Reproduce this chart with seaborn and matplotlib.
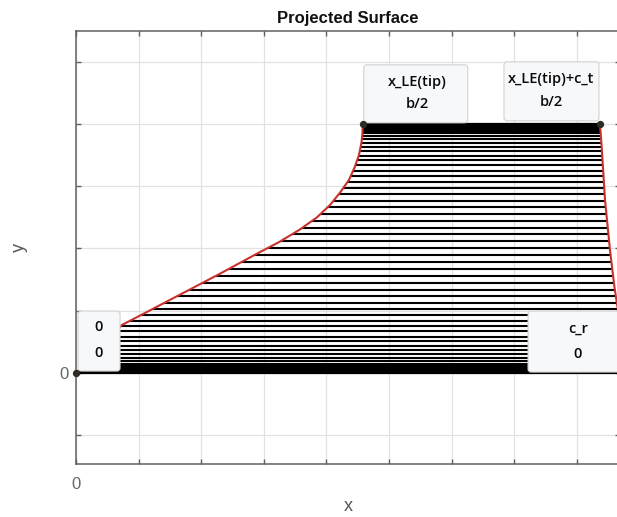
import matplotlib
matplotlib.use("Agg")
import numpy as np
import pandas as pd
import seaborn as sns
import matplotlib.pyplot as plt
from matplotlib.patches import FancyBboxPatch, Polygon
from matplotlib.transforms import Affine2D, ScaledTranslation

# Planform geometry
half_span = 4.0      # b/2
root_chord = 8.85    # c_r
tip_le = 4.58        # x_LE(tip)
tip_chord = 3.79     # c_t

# Leading edge (root -> tip)
le_y = [0.00, 0.77, 1.00, 1.30, 1.60, 1.90, 2.10, 2.30, 2.50, 2.70, 2.90,
        3.10, 3.30, 3.50, 3.70, 3.85, 4.00]
le_x = [0.00, 0.73, 1.17, 1.74, 2.31, 2.86, 3.24, 3.57, 3.85, 4.06, 4.22,
        4.36, 4.45, 4.52, 4.56, 4.576, 4.58]

# Trailing edge (root -> tip)
te_y = [0.00, 0.50, 1.12, 1.39, 1.97, 2.78, 3.58, 4.00]
te_x = [8.85, 8.74, 8.64, 8.60, 8.53, 8.45, 8.40, 8.37]

# Spanwise stations of the chord lines
station_y = [0.000, 0.003, 0.013, 0.028, 0.050, 0.078, 0.112, 0.152, 0.198,
             0.249, 0.307, 0.369, 0.436, 0.509, 0.586, 0.667, 0.753, 0.843,
             0.936, 1.033, 1.132, 1.235, 1.339, 1.446, 1.555, 1.665, 1.776,
             1.888, 2.000, 2.112, 2.224, 2.335, 2.445, 2.554, 2.661, 2.765,
             2.868, 2.967, 3.064, 3.157, 3.247, 3.333, 3.414, 3.491, 3.564,
             3.631, 3.693, 3.751, 3.802, 3.848, 3.888, 3.922, 3.950, 3.972,
             3.987, 3.997, 4.000]

# Data tips: anchor point and the two text rows
tip_points_x = [0.0, root_chord, tip_le, tip_le + tip_chord]
tip_points_y = [0.0, 0.0, half_span, half_span]
tip_texts = [("0", "0"), ("c_r", "0"), ("x_LE(tip)", "b/2"),
             ("x_LE(tip)+c_t", "b/2")]

sns.set_theme(style="whitegrid")
plt.rcParams["font.family"] = ["Liberation Sans", "DejaVu Sans"]

fig = plt.figure(figsize=(6.17, 5.17), dpi=100)
ax = fig.add_axes([0.1232, 0.1025, 0.8817, 0.8375])
ax.set_facecolor("white")

ax.set_xlim(0, 8.69)
ax.set_ylim(-1.46, 5.49)
ax.set_xticks(range(0, 9))
ax.set_yticks(range(-1, 6))
ax.set_xticklabels(["0"] + [""] * 8)
ax.set_yticklabels(["", "0"] + [""] * 5)
ax.grid(True, color="#e2e2e2", linewidth=0.9)
ax.set_axisbelow(True)
for side, sp in ax.spines.items():
    sp.set_visible(True)
    sp.set_color("#606060")
    sp.set_linewidth(1.1)
ax.tick_params(axis="both", which="both", direction="in", length=3.5,
               width=1.0, color="#606060", top=True, right=True,
               bottom=True, left=True, labelsize=12, labelcolor="#666666")
ax.tick_params(axis="x", pad=9)
ax.tick_params(axis="y", pad=5)

# Chord lines clipped to the planform outline
outline = Polygon(np.column_stack([np.r_[le_x, te_x[::-1]],
                                   np.r_[le_y, te_y[::-1]]]),
                  closed=True, transform=ax.transData)
chords = ax.hlines(station_y, min(le_x), max(te_x), colors="black",
                   linewidth=1.5, zorder=2)
chords.set_clip_path(outline)
ax.plot([0, root_chord], [0, 0], color="black", lw=1.6, zorder=2)
ax.plot([tip_le, tip_le + tip_chord], [half_span, half_span],
        color="black", lw=1.6, zorder=2)

edges = pd.DataFrame({"x": le_x + te_x, "y": le_y + te_y,
                      "edge": ["LE"] * len(le_x) + ["TE"] * len(te_x)})
sns.lineplot(data=edges, x="x", y="y", units="edge", estimator=None,
             sort=False, color="#c8302c", linewidth=1.5, ax=ax, zorder=3)

# Data-tip boxes, laid out in pixels relative to their anchor point
box_layout = [
    # x0, x1, y0, y1, text x, text rows y
    (2, 44, 2, 62, 23, (46, 20)),
    (-102, 0, 1, 62, -52, (44, 19)),
    (1, 105, 1, 59, 55, (42, 20)),
    (-96, -1, 3, 62, -49, (45, 22)),
]
for xa, ya, rows, (x0, x1, y0, y1, tx, tys) in zip(
        tip_points_x, tip_points_y, tip_texts, box_layout):
    tr = Affine2D() + ScaledTranslation(xa, ya, ax.transData)
    ax.add_patch(FancyBboxPatch((x0, y0), x1 - x0, y1 - y0,
                                boxstyle="round,pad=0,rounding_size=3",
                                transform=tr, fc="#f7f8fa", ec="#d2d2d2",
                                lw=0.8, zorder=5, clip_on=False))
    for txt, ty in zip(rows, tys):
        ax.text(tx, ty, txt, transform=tr, ha="center", va="center",
                fontsize=10.5, family=["Open Sans", "DejaVu Sans"],
                fontweight="semibold", color="#0a0a0a", zorder=6,
                clip_on=False)

ax.scatter(tip_points_x, tip_points_y, s=18, color="#2c2c22", zorder=7,
           clip_on=False)

ax.set_title("Projected Surface", fontsize=12, fontweight="bold", pad=6,
             color="#111111")
ax.set_xlabel("x", fontsize=13, color="#555555", labelpad=5)
ax.set_ylabel("y", fontsize=13, color="#555555", labelpad=23)

fig.savefig("out.png", dpi=100)
